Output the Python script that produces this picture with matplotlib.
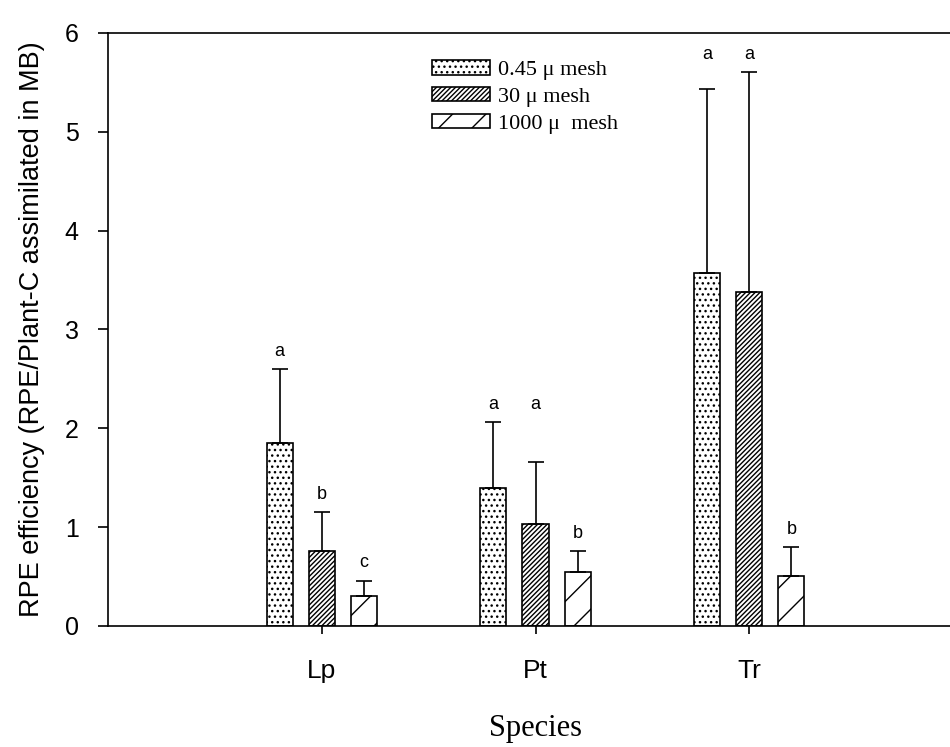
import matplotlib

matplotlib.use("Agg")
import matplotlib.pyplot as plt
import numpy as np

plt.rcParams["hatch.linewidth"] = 1.0

species = ["Lp", "Pt", "Tr"]
mesh_labels = ["0.45 \u03bc mesh", "30 \u03bc mesh", "1000 \u03bc  mesh"]

# mean RPE efficiency per mesh size (rows) and species (columns)
means = [
    [1.85, 1.40, 3.57],
    [0.76, 1.03, 3.38],
    [0.30, 0.55, 0.51],
]
# upper error bar (standard deviation)
errors = [
    [0.75, 0.66, 1.86],
    [0.39, 0.63, 2.22],
    [0.16, 0.21, 0.29],
]
letters = [
    ["a", "a", "a"],
    ["b", "a", "a"],
    ["c", "b", "b"],
]

hatches = ["...", "///////", "/"]

fig = plt.figure(figsize=(9.5, 7.47), dpi=100)
ax = fig.add_axes([0.1137, 0.162, 0.90, 0.794])

x = np.arange(1, len(species) + 1)
width = 0.122
step = 0.197

tops = np.array(means) + np.array(errors)

for i in range(3):
    pos = x + (i - 1) * step
    ax.bar(pos, means[i], width, color="white", edgecolor="black",
           hatch=hatches[i], linewidth=1.2, label=mesh_labels[i], zorder=2)
    ax.errorbar(pos, means[i], yerr=[np.zeros(3), errors[i]], fmt="none",
                ecolor="black", elinewidth=1.2, capsize=6, capthick=1.2, zorder=3)
    for j, p in enumerate(pos):
        # letters shared within a species sit at the same height
        same = [k for k in range(3) if letters[k][j] == letters[i][j]]
        y = max(tops[k][j] for k in same) + 0.18
        ax.text(p, y, letters[i][j], ha="center", va="center", fontsize=13,
                family="Liberation Sans")

ax.set_xlim(0, 4)
ax.set_ylim(0, 6)
ax.set_xticks(x)
ax.set_xticklabels(species, fontsize=19, family="Liberation Sans")
ax.set_yticks(range(7))
ax.set_yticklabels([str(v) for v in range(7)], fontsize=18, family="Liberation Sans")
ax.tick_params(direction="out", length=7, width=1.2)
ax.tick_params(axis="y", pad=14)
ax.tick_params(axis="x", length=6, pad=18)
for s in ax.spines.values():
    s.set_linewidth(1.2)

ax.set_ylabel("RPE efficiency (RPE/Plant-C assimilated in MB)", fontsize=19.5,
              family="Liberation Sans", labelpad=14)
ax.set_xlabel("Species", fontsize=22, family="Liberation Serif", labelpad=22)

fig.legend(loc="upper left", bbox_to_anchor=(0.455, 0.92),
           bbox_transform=fig.transFigure, frameon=False,
           prop={"family": "Liberation Serif", "size": 16},
           borderpad=0, borderaxespad=0,
           handlelength=2.6, handleheight=0.65, labelspacing=0.3, handletextpad=0.35)

fig.savefig("out.png", dpi=100)
